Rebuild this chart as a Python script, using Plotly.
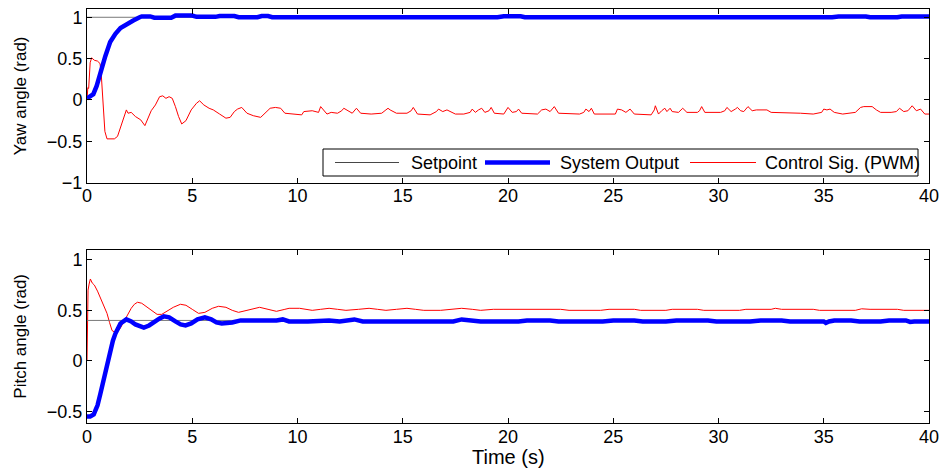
import plotly.graph_objects as go

# ---------------- data ----------------
x_ticks = [0, 5, 10, 15, 20, 25, 30, 35, 40]
yaw_ticks = [-1, -0.5, 0, 0.5, 1]
pitch_ticks = [-0.5, 0, 0.5, 1]
legend_names = ["Setpoint", "System Output", "Control Sig. (PWM)"]

yaw_setpoint_t = [0, 40]
yaw_setpoint_v = [1, 1]
pitch_setpoint_t = [0, 40]
pitch_setpoint_v = [0.4, 0.4]

yaw_out = [(0, 0.02), (0.3, 0.07), (0.46, 0.17), (0.63, 0.33), (0.87, 0.53), (1.1, 0.7),
           (1.35, 0.8), (1.59, 0.87), (1.9, 0.92), (2.2, 0.96), (2.5, 1.0), (2.6, 1.01),
           (3.0, 1.01), (3.2, 0.995), (4.0, 0.995), (4.2, 1.02), (5.0, 1.02), (5.2, 1.005),
           (6.1, 1.005), (6.3, 1.015), (7.0, 1.015), (7.2, 1.0), (8.1, 1.0), (8.3, 1.015),
           (8.6, 1.015), (8.8, 1.0), (19.5, 1.0), (19.8, 1.012), (20.6, 1.012), (20.8, 1.0),
           (35.4, 1.0), (35.7, 1.01), (37.0, 1.01), (37.2, 1.0), (38.5, 1.0), (38.7, 1.01), (40, 1.01)]

yaw_ctrl = [(0, 0.0), (0.04, 0.15), (0.08, 0.14), (0.15, 0.45), (0.22, 0.51), (0.35, 0.48),
            (0.5, 0.47), (0.62, 0.44), (0.68, 0.3), (0.75, -0.05), (0.85, -0.38), (0.95, -0.47),
            (1.3, -0.47), (1.45, -0.44), (1.6, -0.32), (1.75, -0.2), (1.87, -0.12), (1.95, -0.16),
            (2.1, -0.15), (2.3, -0.2), (2.55, -0.24), (2.75, -0.31), (2.9, -0.22), (3.05, -0.13),
            (3.25, -0.06), (3.45, 0.04), (3.6, 0.05), (3.75, 0.02), (3.9, 0.04), (4.05, 0.02),
            (4.2, -0.08), (4.35, -0.2), (4.5, -0.29), (4.7, -0.25), (4.95, -0.12), (5.2, -0.04),
            (5.35, -0.01), (5.55, -0.06), (5.8, -0.1), (6.0, -0.12), (6.3, -0.17), (6.6, -0.22),
            (6.8, -0.21), (7.0, -0.14), (7.15, -0.11), (7.35, -0.09), (7.6, -0.16), (7.9, -0.19),
            (8.25, -0.21), (8.55, -0.14), (8.7, -0.1), (8.95, -0.09), (9.2, -0.1), (9.4, -0.16),
            (9.7, -0.17), (10.2, -0.18), (10.3, -0.14), (10.7, -0.13), (11.0, -0.15), (11.1, -0.08),
            (11.4, -0.17), (11.6, -0.15), (11.9, -0.16), (12.1, -0.13), (12.2, -0.1), (12.4, -0.13),
            (12.6, -0.16), (12.8, -0.1), (13.0, -0.16), (13.5, -0.17), (14.0, -0.16), (14.2, -0.12),
            (14.3, -0.1), (14.4, -0.12), (14.7, -0.16), (15.2, -0.16), (15.4, -0.13), (15.5, -0.09),
            (15.7, -0.17), (16.3, -0.18), (16.6, -0.14), (16.7, -0.11), (16.9, -0.14), (17.1, -0.12),
            (17.3, -0.15), (17.5, -0.17), (17.9, -0.17), (18.2, -0.15), (18.3, -0.11), (18.45, -0.15),
            (18.6, -0.12), (18.75, -0.1), (18.9, -0.15), (19.1, -0.13), (19.2, -0.09), (19.35, -0.16),
            (19.8, -0.17), (19.95, -0.12), (20.0, -0.09), (20.2, -0.15), (20.4, -0.14), (20.5, -0.11),
            (20.65, -0.16), (21.4, -0.17), (21.55, -0.14), (21.6, -0.12), (21.8, -0.11), (22.0, -0.14),
            (22.2, -0.08), (22.4, -0.16), (23.4, -0.17), (23.6, -0.15), (23.7, -0.11), (23.85, -0.14),
            (23.96, -0.1), (24.1, -0.17), (25.1, -0.17), (25.2, -0.11), (25.4, -0.12), (25.6, -0.15),
            (25.8, -0.11), (26.0, -0.17), (26.8, -0.18), (26.95, -0.12), (27.0, -0.07), (27.15, -0.17),
            (27.3, -0.13), (27.45, -0.1), (27.55, -0.14), (27.7, -0.1), (27.8, -0.14), (28.1, -0.15),
            (28.3, -0.1), (28.5, -0.15), (29.0, -0.15), (29.1, -0.13), (29.2, -0.08), (29.35, -0.15),
            (30.1, -0.15), (30.3, -0.13), (30.4, -0.09), (30.6, -0.14), (30.8, -0.11), (30.9, -0.09),
            (31.05, -0.13), (31.2, -0.14), (31.3, -0.11), (31.4, -0.08), (31.6, -0.13), (31.8, -0.12),
            (32.3, -0.12), (32.5, -0.15), (33.9, -0.16), (34.5, -0.17), (34.9, -0.15), (35.0, -0.11),
            (35.15, -0.12), (35.3, -0.11), (35.5, -0.15), (35.9, -0.17), (36.5, -0.15), (36.75, -0.09),
            (36.9, -0.08), (37.3, -0.08), (37.5, -0.12), (37.7, -0.15), (38.2, -0.15), (38.45, -0.14),
            (38.6, -0.1), (38.8, -0.14), (39.0, -0.13), (39.2, -0.07), (39.4, -0.13), (39.6, -0.11),
            (39.8, -0.17), (40.0, -0.17)]

pitch_out = [(0, -0.55), (0.15, -0.55), (0.32, -0.53), (0.5, -0.44), (0.63, -0.33), (0.75, -0.22),
             (0.87, -0.11), (1.0, 0.01), (1.11, 0.12), (1.23, 0.2), (1.35, 0.27), (1.47, 0.33),
             (1.59, 0.37), (1.87, 0.41), (2.1, 0.39), (2.3, 0.36), (2.7, 0.33), (2.95, 0.35),
             (3.2, 0.39), (3.45, 0.42), (3.65, 0.44), (3.9, 0.43), (4.2, 0.39), (4.45, 0.36),
             (4.68, 0.35), (4.95, 0.37), (5.25, 0.41), (5.6, 0.43), (5.9, 0.41), (6.15, 0.38),
             (6.4, 0.37), (6.9, 0.38), (7.3, 0.40), (7.6, 0.40), (8.0, 0.39), (8.5, 0.39),
             (9.0, 0.40), (9.3, 0.41), (9.6, 0.39), (10.5, 0.39), (11.0, 0.40), (11.5, 0.40),
             (12.0, 0.39), (12.4, 0.40), (12.7, 0.41), (13.1, 0.39), (14.3, 0.39), (14.6, 0.40),
             (15.2, 0.40), (15.6, 0.39), (17.4, 0.39), (17.8, 0.41), (18.3, 0.40), (18.7, 0.39),
             (20.5, 0.39), (20.9, 0.40), (22.0, 0.40), (22.4, 0.39), (24.5, 0.39), (25.0, 0.40),
             (26.0, 0.40), (26.4, 0.39), (27.5, 0.39), (28.0, 0.40), (29.5, 0.40), (29.9, 0.39),
             (31.5, 0.39), (32.0, 0.40), (33.0, 0.40), (33.4, 0.39), (35.0, 0.39), (35.1, 0.375),
             (35.25, 0.39), (35.5, 0.40), (36.3, 0.40), (36.7, 0.39), (37.7, 0.39), (38.1, 0.40),
             (38.9, 0.40), (39.1, 0.385), (39.3, 0.39), (40, 0.39)]

pitch_ctrl = [(0, 0.0), (0.02, 0.3), (0.05, 0.7), (0.1, 0.76), (0.16, 0.81), (0.25, 0.77),
              (0.35, 0.75), (0.5, 0.69), (0.63, 0.63), (0.8, 0.55), (0.95, 0.47), (1.07, 0.38),
              (1.19, 0.3), (1.35, 0.28), (1.5, 0.3), (1.6, 0.33), (1.75, 0.39), (1.9, 0.45),
              (2.1, 0.52), (2.25, 0.56), (2.4, 0.58), (2.6, 0.57), (2.86, 0.53), (3.1, 0.49),
              (3.33, 0.46), (3.55, 0.46), (3.8, 0.49), (4.1, 0.53), (4.44, 0.56), (4.7, 0.55),
              (5.0, 0.51), (5.3, 0.47), (5.6, 0.48), (5.95, 0.52), (6.25, 0.54), (6.6, 0.53),
              (6.9, 0.5), (7.2, 0.48), (7.6, 0.5), (8.2, 0.53), (8.6, 0.51), (9.0, 0.49),
              (9.4, 0.51), (9.6, 0.52), (10.1, 0.52), (10.4, 0.51), (10.7, 0.5), (11.1, 0.51),
              (11.5, 0.52), (11.9, 0.51), (12.3, 0.5), (12.9, 0.51), (13.4, 0.52), (13.8, 0.51),
              (14.2, 0.5), (14.7, 0.51), (15.2, 0.52), (15.6, 0.51), (16.0, 0.5), (16.8, 0.5),
              (17.3, 0.51), (17.8, 0.52), (18.3, 0.51), (18.7, 0.5), (19.3, 0.51), (20.6, 0.51),
              (21.0, 0.505), (21.4, 0.51), (22.5, 0.51), (22.9, 0.5), (24.4, 0.5), (24.8, 0.51),
              (26.0, 0.51), (26.3, 0.5), (27.5, 0.5), (27.8, 0.51), (29.0, 0.51), (29.3, 0.5),
              (31.0, 0.5), (31.3, 0.51), (32.5, 0.51), (32.7, 0.52), (33.0, 0.51), (34.5, 0.51),
              (34.8, 0.5), (36.5, 0.5), (36.8, 0.515), (37.2, 0.51), (38.5, 0.51), (38.8, 0.5),
              (40, 0.5)]

# ---------------- figure ----------------
FONT = "Liberation Sans, Arial, sans-serif"
SET_COL = "rgb(120,120,120)"
SET_LEG_COL = "rgb(70,70,70)"
OUT_COL = "#0000FF"
CTRL_COL = "#FF0000"
OUT_W = 4.5

W, H = 941, 472
ML, MR, MT, MB = 87, 12, 9, 49
PW, PH = W - ML - MR, H - MT - MB


def split(pairs):
    return [p[0] for p in pairs], [p[1] for p in pairs]


def px(xpix):
    return (xpix - ML) / PW


def py(ypix):
    return (H - MB - ypix) / PH


fig = go.Figure()

# Yaw subplot
t, v = split(yaw_ctrl)
fig.add_trace(go.Scatter(x=t, y=v, mode="lines", line=dict(color=CTRL_COL, width=1),
                         name=legend_names[2], xaxis="x", yaxis="y"))
fig.add_trace(go.Scatter(x=yaw_setpoint_t, y=yaw_setpoint_v, mode="lines",
                         line=dict(color=SET_COL, width=1), name=legend_names[0],
                         xaxis="x", yaxis="y"))
t, v = split(yaw_out)
fig.add_trace(go.Scatter(x=t, y=v, mode="lines", line=dict(color=OUT_COL, width=OUT_W),
                         name=legend_names[1], xaxis="x", yaxis="y"))

# Pitch subplot
t, v = split(pitch_ctrl)
fig.add_trace(go.Scatter(x=t, y=v, mode="lines", line=dict(color=CTRL_COL, width=1),
                         name=legend_names[2], xaxis="x2", yaxis="y2"))
fig.add_trace(go.Scatter(x=pitch_setpoint_t, y=pitch_setpoint_v, mode="lines",
                         line=dict(color=SET_COL, width=1), name=legend_names[0],
                         xaxis="x2", yaxis="y2"))
t, v = split(pitch_out)
fig.add_trace(go.Scatter(x=t, y=v, mode="lines", line=dict(color=OUT_COL, width=OUT_W),
                         name=legend_names[1], xaxis="x2", yaxis="y2"))

axis_common = dict(showline=True, linecolor="black", linewidth=1, mirror="ticks",
                   ticks="inside", ticklen=5, tickcolor="black", showgrid=False,
                   zeroline=False, tickfont=dict(family=FONT, size=18, color="black"),
                   automargin=False)

# Legend box (MATLAB style), drawn in paper coordinates
shapes = [dict(type="rect", xref="paper", yref="paper", x0=px(323), x1=px(918),
               y0=py(176), y1=py(149), line=dict(color="black", width=1),
               fillcolor="white", layer="above")]
leg_y = py(162.5)
leg_lines = [(335, 399, SET_LEG_COL, 1), (485, 550, OUT_COL, OUT_W), (690, 756, CTRL_COL, 1)]
leg_text_x = [409, 558, 763]
for (a, b, c, w) in leg_lines:
    shapes.append(dict(type="line", xref="paper", yref="paper", x0=px(a), x1=px(b),
                       y0=leg_y, y1=leg_y, line=dict(color=c, width=w), layer="above"))
annotations = [dict(xref="paper", yref="paper", x=px(tx), y=leg_y, text=name,
                    showarrow=False, xanchor="left", yanchor="middle",
                    font=dict(family=FONT, size=18, color="black"))
               for tx, name in zip(leg_text_x, legend_names)]
annotations.append(dict(xref="paper", yref="paper", x=px(508), y=py(457), text="Time (s)",
                        showarrow=False, xanchor="center", yanchor="middle",
                        font=dict(family=FONT, size=20, color="black")))

fig.update_layout(
    width=W, height=H,
    margin=dict(l=ML, r=MR, t=MT, b=MB),
    paper_bgcolor="white", plot_bgcolor="white",
    font=dict(family=FONT, color="black"),
    showlegend=False,
    xaxis=dict(domain=[0, 1], range=[0, 40], tickvals=x_ticks, anchor="y",
               ticklabelstandoff=-3, **axis_common),
    yaxis=dict(domain=[py(182.7), 1.0], range=[-1, 1.1], tickvals=yaw_ticks, anchor="x",
               title=dict(text="Yaw angle (rad)", font=dict(family=FONT, size=17), standoff=15),
               **axis_common),
    xaxis2=dict(domain=[0, 1], range=[0, 40], tickvals=x_ticks, anchor="y2",
                ticklabelstandoff=-3, **axis_common),
    yaxis2=dict(domain=[0.0, py(249.7)], range=[-0.615, 1.1], tickvals=pitch_ticks, anchor="x2",
                title=dict(text="Pitch angle (rad)", font=dict(family=FONT, size=17), standoff=15),
                **axis_common),
    shapes=shapes,
    annotations=annotations,
)

fig.write_html("out.html", config={"displayModeBar": False},
               post_script="document.body.style.margin='0px';")
